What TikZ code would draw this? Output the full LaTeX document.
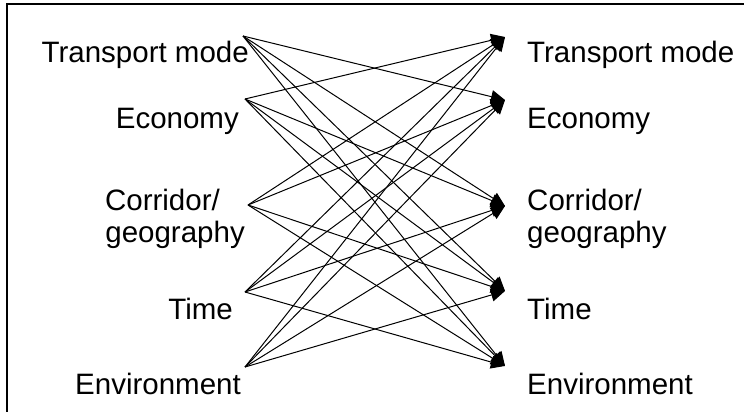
\documentclass[tikz,border=0pt]{standalone}
\usepackage{fontspec}
\setmainfont{Liberation Sans}
\usetikzlibrary{arrows.meta}
\tikzset{
  lbl/.style={font=\fontsize{29.5}{30}\selectfont,text=black,inner sep=0pt},
  link/.style={black,line width=1pt,-{Triangle[length=14pt,width=13pt]}}
}
\begin{document}
\begin{tikzpicture}[x=1pt,y=-1pt]
\useasboundingbox (0,0) rectangle (744,412);
\draw[black,line width=2pt] (744,4) -- (7,4) -- (7,412);

\node[lbl,anchor=base east] (tTransL) at (249,63) {Transport mode};
\node[lbl,anchor=base east] (tEconL) at (239,128) {Economy};
\node[lbl,anchor=base east] (tCorrL) at (220,210) {Corridor/};
\node[lbl,anchor=base east] (tGeoL) at (245,242) {geography};
\node[lbl,anchor=base east] (tTimeL) at (233,319) {Time};
\node[lbl,anchor=base east] (tEnvL) at (241,394) {Environment};

\node[lbl,anchor=base west] (tTransR) at (527,63) {Transport mode};
\node[lbl,anchor=base west] (tEconR) at (527,128) {Economy};
\node[lbl,anchor=base west] (tCorrR) at (527,210) {Corridor/};
\node[lbl,anchor=base west] (tGeoR) at (527,242) {geography};
\node[lbl,anchor=base west] (tTimeR) at (527,319) {Time};
\node[lbl,anchor=base west] (tEnvR) at (527,394) {Environment};

\coordinate (lTrans) at (243,36);
\coordinate (lEcon) at (245,99);
\coordinate (lCorr) at (248,205);
\coordinate (lTime) at (245,292);
\coordinate (lEnv) at (245,367);
\coordinate (rTrans) at (505,37);
\coordinate (rEcon) at (505,100);
\coordinate (rCorr) at (505,206);
\coordinate (rTime) at (505,291);
\coordinate (rEnv) at (505,366);

\draw[link] (lTrans) -- (rEcon);
\draw[link] (lTrans) -- (rCorr);
\draw[link] (lTrans) -- (rTime);
\draw[link] (lTrans) -- (rEnv);
\draw[link] (lEcon) -- (rTrans);
\draw[link] (lEcon) -- (rCorr);
\draw[link] (lEcon) -- (rTime);
\draw[link] (lEcon) -- (rEnv);
\draw[link] (lCorr) -- (rTrans);
\draw[link] (lCorr) -- (rEcon);
\draw[link] (lCorr) -- (rTime);
\draw[link] (lCorr) -- (rEnv);
\draw[link] (lTime) -- (rTrans);
\draw[link] (lTime) -- (rEcon);
\draw[link] (lTime) -- (rCorr);
\draw[link] (lTime) -- (rEnv);
\draw[link] (lEnv) -- (rTrans);
\draw[link] (lEnv) -- (rEcon);
\draw[link] (lEnv) -- (rCorr);
\draw[link] (lEnv) -- (rTime);
\end{tikzpicture}
\end{document}
